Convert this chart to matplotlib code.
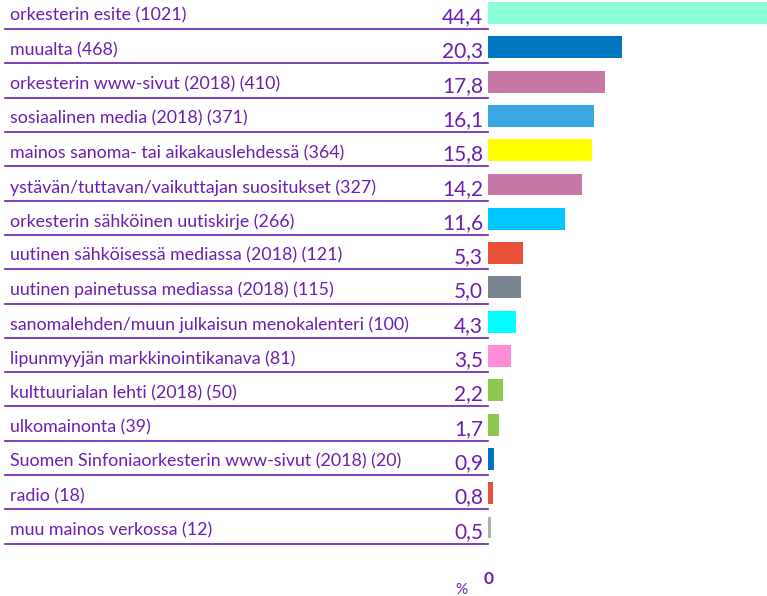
import matplotlib
matplotlib.use("Agg")
import matplotlib.pyplot as plt
from matplotlib.transforms import blended_transform_factory

plt.rcParams['font.family'] = ['Lato', 'DejaVu Sans']

labels = [
    "orkesterin esite (1021)",
    "muualta (468)",
    "orkesterin www-sivut (2018) (410)",
    "sosiaalinen media (2018) (371)",
    "mainos sanoma- tai aikakauslehdessä (364)",
    "ystävän/tuttavan/vaikuttajan suositukset (327)",
    "orkesterin sähköinen uutiskirje (266)",
    "uutinen sähköisessä mediassa (2018) (121)",
    "uutinen painetussa mediassa (2018) (115)",
    "sanomalehden/muun julkaisun menokalenteri (100)",
    "lipunmyyjän markkinointikanava (81)",
    "kulttuurialan lehti (2018) (50)",
    "ulkomainonta (39)",
    "Suomen Sinfoniaorkesterin www-sivut (2018) (20)",
    "radio (18)",
    "muu mainos verkossa (12)",
]
values = [44.4, 20.3, 17.8, 16.1, 15.8, 14.2, 11.6, 5.3, 5.0, 4.3, 3.5, 2.2, 1.7, 0.9, 0.8, 0.5]
colors = ["#8AFFD8", "#0077C0", "#C878A6", "#3AA8E0", "#FFFF00", "#C878A6", "#00C8FF",
          "#E8503A", "#788490", "#00FFFF", "#FF8ED8", "#8CC850", "#8CC850", "#0070C0",
          "#E8503A", "#A8B0B8"]

purple = "#6A1FB0"
W, H = 767, 596

fig = plt.figure(figsize=(W / 100, H / 100), dpi=100)
ax = fig.add_axes([488 / W, 0, 1 - 488 / W, 1])
pos = list(range(len(values)))
ax.barh(pos, values, height=0.64, color=colors)
ax.set_xlim(0, (W - 488) / 6.6)
ax.set_ylim((H - 13) / 34.3, -13 / 34.3)
ax.axis("off")

tr = blended_transform_factory(fig.transFigure, ax.transData)
for i, (lab, v) in enumerate(zip(labels, values)):
    ax.text(10 / W, i + 0.08, lab, transform=tr, ha="left", va="center",
            fontsize=12.8, color=purple, clip_on=False)
    ax.text(483 / W, i + 0.12, f"{v:.1f}".replace(".", ","), transform=tr,
            ha="right", va="center", fontsize=15, color=purple, clip_on=False)
    ax.plot([5 / W, 488 / W], [i + 0.47, i + 0.47], transform=tr,
            color=purple, lw=1.2, clip_on=False)

fig.text(489 / W, 1 - 579 / H, "0", ha="center", va="center", fontsize=12.5,
         fontweight="bold", color=purple)
fig.text(461 / W, 1 - 590 / H, "%", ha="center", va="center", fontsize=11,
         color=purple)

fig.savefig("out.png", dpi=100)
